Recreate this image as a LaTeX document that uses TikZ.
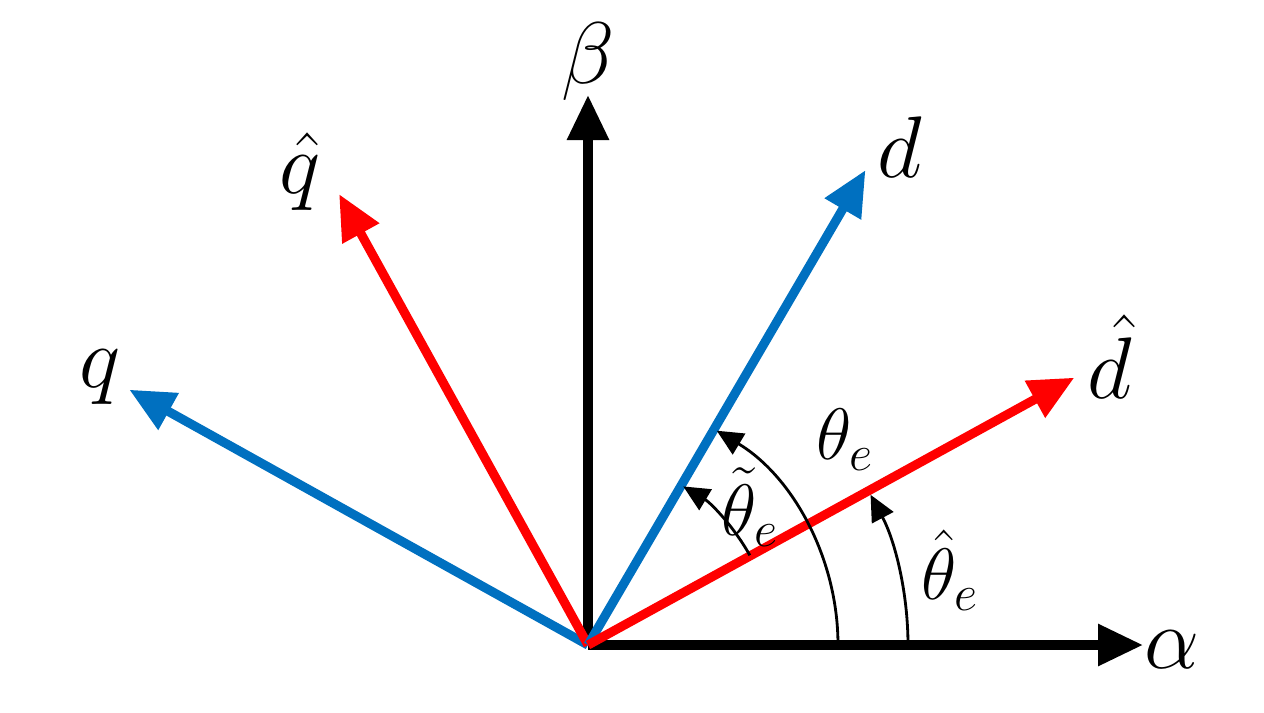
\documentclass[tikz,border=0pt]{standalone}
\usetikzlibrary{arrows.meta}
\definecolor{axblue}{RGB}{0,112,192}
\definecolor{axred}{RGB}{255,0,0}
\tikzset{
  vec/.style={line width=2.6pt, -{Triangle[length=0.45cm,width=0.4cm]}},
  ang/.style={line width=0.8pt, -{Triangle[length=0.26cm,width=0.24cm]}},
  lbl/.style={font=\fontsize{40}{44}\selectfont},
  slbl/.style={font=\fontsize{20}{24}\selectfont},
}
\begin{document}
\begin{tikzpicture}
\useasboundingbox (0,0) rectangle (12.64,7.12);
\coordinate (O) at (5.88,0.67);
\begin{scope}[shift={(O)}]
    \coordinate (alpha) at (0:5.55);
    \coordinate (beta) at (90:5.5);
    \coordinate (d) at (59.7:5.5);
    \coordinate (dh) at (28.8:5.55);
    \coordinate (qh) at (118.9:5.15);
    \coordinate (q) at (150.9:5.25);
\end{scope}
\draw[vec, black] (O) -- (alpha);
\draw[vec, black] (O) -- (beta);
\draw[vec, axblue] (O) -- (q);
\draw[vec, axred] (O) -- (qh);
\draw[vec, axblue] (O) -- (d);
\draw[vec, axred] (O) -- (dh);
\node[lbl] (la) at (11.72,0.62) {$\alpha$};
\node[lbl] (lb) at (5.88,6.5) {$\beta$};
\node[lbl] (ld) at (9.0,5.65) {$d$};
\node[lbl] (ldh) at (11.1,3.55) {$\hat{d}$};
\node[lbl] (lqh) at (3.0,5.4) {$\hat{q}$};
\node[lbl] (lq) at (1.0,3.35) {$q$};
% angle arcs
\draw[ang] ([shift={(0:2.5)}]O) arc (0:59:2.5);
\draw[ang] ([shift={(29:1.85)}]O) arc (29:59:1.85);
\draw[ang] ([shift={(0:3.2)}]O) arc (0:28:3.2);
\node[slbl] (lt) at (8.45,2.72) {$\theta_e$};
\node[slbl] (ltt) at (7.5,2.05) {$\tilde{\theta}_e$};
\node[slbl] (lth) at (9.5,1.42) {$\hat{\theta}_e$};
\end{tikzpicture}
\end{document}
